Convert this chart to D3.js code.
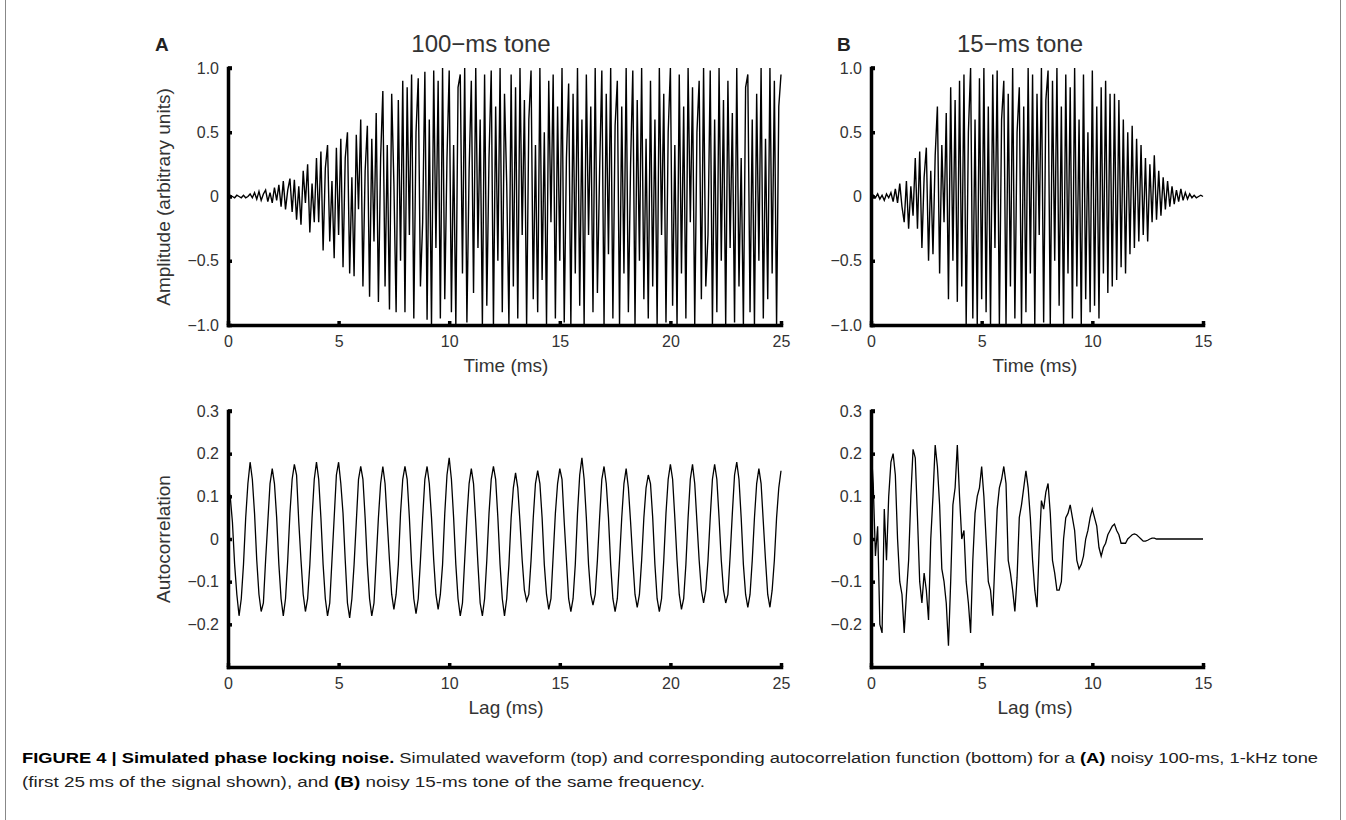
<!DOCTYPE html>
<html>
<head>
<meta charset="utf-8">
<script src="https://cdn.jsdelivr.net/npm/d3@7"></script>
<style>
  body { margin: 0; background: #fff; }
  text { font-family: "Liberation Sans", Arial, Helvetica, sans-serif; }
</style>
</head>
<body>
<svg id="fig" width="1346" height="820"></svg>
<script>

// sample step (ms) for all four traces
var dt = 0.1;

// panel A top: noisy 100-ms tone, first 25 ms
var toneA = [
  0,.01,0,-.01,.01,0,-.01,.01,-.01,0,
  .02,-.01,.03,-.02,.04,-.03,.02,.05,-.04,.03,
  -.05,.07,-.03,.09,-.08,.12,-.1,.05,.14,-.12,
  .13,-.18,.08,-.22,.2,-.05,.25,-.28,.1,-.2,
  .3,-.2,.35,-.42,.22,.4,-.35,.12,-.48,.38,
  -.3,.45,-.55,.3,.5,-.6,.15,-.62,.48,-.1,
  .6,-.7,.2,.55,-.78,.45,-.35,.65,-.82,.3,
  .82,-.7,.4,-.88,.8,.1,-.9,.75,-.5,.9,
  -.9,.85,-.3,.95,-.95,.5,.92,-.7,-.2,.97,
  -.96,.6,-1,.98,-.4,.9,-.95,1,-.8,.3,
  .98,-.9,.4,-1,.85,.95,-.6,1,-.98,.2,
  .9,-.75,1,-.4,.6,-1,.95,-.85,.3,.98,
  -1,.7,-.5,1,-.9,.8,.1,-1,.95,-.7,
  .85,-.95,1,-.3,.75,-1,.6,.98,-.8,.4,
  -.9,1,-.65,.5,-1,.9,-.2,.95,-.95,.7,
  -.5,1,-.98,.3,.88,-1,.8,-.6,1,-.85,
  .6,-1,.95,-.3,.7,-.9,1,-.75,.2,.98,
  -1,.8,-.45,1,-.95,.55,.9,-1,.7,-.6,
  1,-.9,.25,.98,-1,.75,-.5,1,-.8,.45,
  -.95,.9,-.7,.6,-1,1,-.3,.8,-.98,.5,
  1,-.85,.4,-1,.95,-.6,.7,-.95,1,-.2,
  .85,-1,.5,.9,-.8,1,-.7,-.3,.98,-1,
  .6,-.9,1,-.5,.75,-1,.9,-.4,.65,-.98,
  1,-.7,.3,-1,.85,.95,-.9,.6,-1,.8,
  -.5,1,-.95,.45,-.8,1,-.6,.9,-1,.7,
  .95
];

// panel B top: noisy 15-ms tone
var toneB = [
  0,.01,-.01,.02,-.02,.01,-.03,.02,-.01,.03,
  -.04,.06,-.05,.1,-.08,-.2,.12,-.25,.08,-.15,
  .3,-.25,.35,-.4,.15,.38,-.5,.2,-.45,.32,
  .7,-.6,.4,-.2,.65,-.8,.85,-.5,.75,-.82,
  .9,-.7,.95,-1,.5,1,-.95,.6,-1,.92,
  -.8,1,-.9,.7,-1,.95,-.4,.98,-1,.6,
  .9,-1,.8,-.7,1,-.95,.5,.85,-1,.7,
  -.9,1,-.6,.95,-1,.8,-.3,1,-.98,.75,
  .98,-1,.9,-.5,1,-.85,.7,-1,.95,-.6,
  .85,-.95,1,-.7,.6,-1,.95,-.8,.5,-.9,
  .98,-.85,.7,-.95,.85,-.6,.9,-.75,.8,-.7,
  .8,-.65,.75,-.55,.6,-.6,.5,-.45,.55,-.4,
  .45,-.35,.4,-.3,.3,-.35,.25,-.2,.32,-.18,
  .2,-.15,.15,-.1,.12,-.08,.08,-.06,.05,-.04,
  .06,-.03,.03,-.02,.02,-.01,.01,-.01,0,.01,
  0
];

// panel A bottom: autocorrelation of the 100-ms tone
var acfA = [
  .12,.1,.04,-.06,-.13,-.18,-.14,-.06,.05,.13,
  .18,.14,.06,-.05,-.13,-.17,-.15,-.05,.04,.13,
  .165,.13,.05,-.06,-.14,-.18,-.14,-.05,.06,.14,
  .175,.15,.04,-.05,-.13,-.17,-.14,-.06,.05,.14,
  .18,.14,.05,-.06,-.14,-.18,-.15,-.05,.05,.15,
  .18,.13,.06,-.05,-.15,-.185,-.14,-.06,.04,.14,
  .17,.14,.05,-.06,-.14,-.18,-.15,-.05,.05,.13,
  .17,.13,.04,-.05,-.13,-.165,-.13,-.06,.06,.14,
  .17,.14,.05,-.06,-.14,-.175,-.14,-.05,.05,.14,
  .17,.13,.05,-.05,-.13,-.165,-.13,-.06,.06,.15,
  .19,.14,.05,-.06,-.14,-.18,-.15,-.05,.05,.13,
  .165,.13,.04,-.06,-.15,-.18,-.14,-.05,.06,.14,
  .17,.14,.05,-.06,-.14,-.18,-.14,-.06,.05,.12,
  .155,.12,.04,-.05,-.12,-.145,-.13,-.05,.05,.13,
  .16,.13,.05,-.06,-.13,-.165,-.14,-.04,.06,.13,
  .165,.14,.04,-.05,-.14,-.17,-.14,-.06,.06,.15,
  .19,.14,.05,-.06,-.13,-.155,-.13,-.05,.05,.14,
  .17,.13,.05,-.06,-.14,-.17,-.14,-.05,.05,.13,
  .165,.12,.04,-.05,-.13,-.16,-.13,-.05,.05,.12,
  .15,.13,.05,-.06,-.14,-.17,-.14,-.05,.06,.14,
  .175,.14,.05,-.05,-.13,-.165,-.14,-.06,.05,.14,
  .175,.13,.04,-.05,-.12,-.15,-.12,-.05,.05,.14,
  .175,.14,.05,-.05,-.12,-.15,-.13,-.04,.06,.15,
  .18,.14,.05,-.06,-.13,-.16,-.13,-.05,.05,.13,
  .165,.13,.04,-.05,-.13,-.16,-.12,-.05,.05,.12,
  .16
];

// panel B bottom: autocorrelation of the 15-ms tone
var acfB = [
  .22,.13,-.04,.03,-.2,-.22,.07,-.05,.1,.18,
  .2,.15,0,-.1,-.13,-.22,-.13,-.05,.1,.21,
  .19,.05,-.1,-.15,-.08,-.12,-.19,0,.1,.22,
  .17,.08,-.07,-.1,-.15,-.25,-.1,.08,.12,.22,
  .1,0,.02,-.1,-.15,-.22,-.05,.06,.1,.12,
  .17,.1,0,-.1,-.12,-.18,-.05,.07,.12,.14,
  .17,.13,-.05,-.08,-.12,-.17,-.09,.05,.08,.12,
  .16,.12,.05,-.05,-.12,-.16,-.02,.09,.07,.11,
  .13,.06,-.05,-.08,-.12,-.12,-.1,0,.05,.06,
  .08,.05,.02,-.05,-.07,-.06,-.04,0,.02,.05,
  .07,.05,.03,-.02,-.04,-.02,-.01,.01,.02,.03,
  .035,.02,.01,-.01,-.01,-.01,0,.005,.01,.012,
  .01,.005,0,-.005,-.005,-.003,0,.002,.002,0,
  0,0,0,0,0,0,0,0,0,0,
  0,0,0,0,0,0,0,0,0,0,
  0
];

var topTicks = [-1, -0.5, 0, 0.5, 1];
var bottomTicks = [-0.2, -0.1, 0, 0.1, 0.2, 0.3];
var ticksA = [0, 5, 10, 15, 20, 25];
var ticksB = [0, 5, 10, 15];

var svg = d3.select("#fig");

function yfmt(d) {
  if (d === 0) return "0";
  var s = Math.abs(d).toFixed(1);
  return (d < 0 ? "\u2212" : "") + s;
}

function drawPanel(o) {
  var x = d3.scaleLinear().domain([0, o.xmax]).range([o.left, o.right]);
  var y = d3.scaleLinear().domain(o.ydom).range([o.bottom, o.top]);
  var g = svg.append("g");

  var line = d3.line()
    .x(function(d, i) { return x(i * dt); })
    .y(function(d) { return y(d); });

  g.append("path")
    .datum(o.values)
    .attr("d", line)
    .attr("fill", "none")
    .attr("stroke", "#000")
    .attr("stroke-width", o.sw);

  var xa = g.append("g")
    .attr("transform", "translate(0," + o.bottom + ")")
    .call(d3.axisBottom(x).tickValues(o.xticks).tickSizeInner(-4).tickSizeOuter(0)
      .tickPadding(11).tickFormat(d3.format("d")));

  var ya = g.append("g")
    .attr("transform", "translate(" + o.left + ",0)")
    .call(d3.axisLeft(y).tickValues(o.yticks).tickSizeInner(-4).tickSizeOuter(0)
      .tickPadding(9).tickFormat(yfmt));

  [xa, ya].forEach(function(a) {
    a.attr("font-family", null).attr("font-size", null);
    a.select(".domain").attr("stroke", "#000").attr("stroke-width", 3.5)
      .attr("stroke-linecap", "square");
    a.selectAll(".tick line").attr("stroke", "#000").attr("stroke-width", 3.5);
    a.selectAll(".tick text").attr("font-size", 16).attr("fill", "#333");
  });

  // top end mark of y axis
  g.append("line")
    .attr("x1", o.left).attr("x2", o.left + 4)
    .attr("y1", y(o.ydom[1])).attr("y2", y(o.ydom[1]))
    .attr("stroke", "#000").attr("stroke-width", 3.5);

  g.append("text")
    .attr("x", o.xlabX).attr("y", o.bottom + 47)
    .attr("text-anchor", "middle").attr("font-size", 19).attr("fill", "#333")
    .text(o.xlabel);
}

drawPanel({ values: toneA, xmax: 25, ydom: [-1, 1], left: 228, right: 781, top: 68, bottom: 325,
  xticks: ticksA, yticks: topTicks, sw: 1.4, xlabel: "Time (ms)", xlabX: 506 });
drawPanel({ values: toneB, xmax: 15, ydom: [-1, 1], left: 871, right: 1203, top: 68, bottom: 325,
  xticks: ticksB, yticks: topTicks, sw: 1.4, xlabel: "Time (ms)", xlabX: 1035 });
drawPanel({ values: acfA, xmax: 25, ydom: [-0.3, 0.3], left: 228, right: 781, top: 411, bottom: 667,
  xticks: ticksA, yticks: bottomTicks, sw: 1.3, xlabel: "Lag (ms)", xlabX: 506 });
drawPanel({ values: acfB, xmax: 15, ydom: [-0.3, 0.3], left: 871, right: 1203, top: 411, bottom: 667,
  xticks: ticksB, yticks: bottomTicks, sw: 1.3, xlabel: "Lag (ms)", xlabX: 1035 });

// panel letters and titles
svg.append("text").attr("x", 155).attr("y", 51).attr("font-size", 19).attr("font-weight", "bold").attr("fill", "#222").text("A");
svg.append("text").attr("x", 837).attr("y", 51).attr("font-size", 19).attr("font-weight", "bold").attr("fill", "#222").text("B");
svg.append("text").attr("x", 481).attr("y", 52).attr("text-anchor", "middle").attr("font-size", 24)
  .attr("fill", "#333").text("100\u2212ms tone");
svg.append("text").attr("x", 1020).attr("y", 52).attr("text-anchor", "middle").attr("font-size", 24)
  .attr("fill", "#333").text("15\u2212ms tone");

// y axis titles
svg.append("text").attr("transform", "translate(170,197) rotate(-90)")
  .attr("text-anchor", "middle").attr("font-size", 19).attr("fill", "#333")
  .text("Amplitude (arbitrary units)");
svg.append("text").attr("transform", "translate(170,539) rotate(-90)")
  .attr("text-anchor", "middle").attr("font-size", 19).attr("fill", "#333")
  .text("Autocorrelation");

// figure frame
svg.append("line").attr("x1", 5.5).attr("x2", 5.5).attr("y1", 0).attr("y2", 820).attr("stroke", "#888");
svg.append("line").attr("x1", 1340.5).attr("x2", 1340.5).attr("y1", 0).attr("y2", 820).attr("stroke", "#888");

// caption
var cap = svg.append("g")
  .style("font-family", "'Liberation Sans Narrow', 'Liberation Sans', Arial, sans-serif")
  .attr("font-size", 14).attr("fill", "#222");

var l1 = cap.append("text").attr("x", 22).attr("y", 763)
  .attr("textLength", 1296).attr("lengthAdjust", "spacingAndGlyphs");
l1.append("tspan").attr("font-weight", "bold").attr("fill", "#000").text("FIGURE 4 | Simulated phase locking noise.");
l1.append("tspan").text(" Simulated waveform (top) and corresponding autocorrelation function (bottom) for a ");
l1.append("tspan").attr("font-weight", "bold").attr("fill", "#000").text("(A)");
l1.append("tspan").text(" noisy 100-ms, 1-kHz tone");

var l2 = cap.append("text").attr("x", 22).attr("y", 787)
  .attr("textLength", 683).attr("lengthAdjust", "spacingAndGlyphs");
l2.append("tspan").text("(first 25\u2009ms of the signal shown), and ");
l2.append("tspan").attr("font-weight", "bold").attr("fill", "#000").text("(B)");
l2.append("tspan").text(" noisy 15-ms tone of the same frequency.");

</script>
</body>
</html>
